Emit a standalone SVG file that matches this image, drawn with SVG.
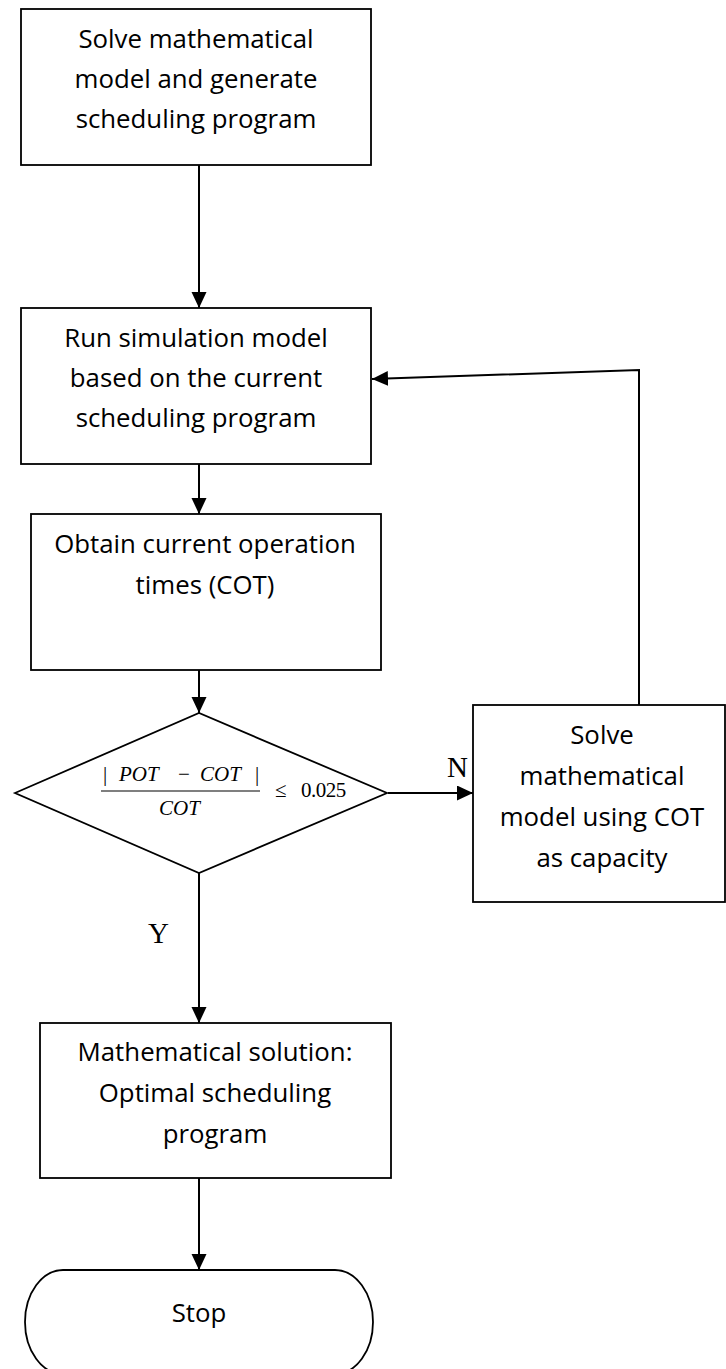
<svg xmlns="http://www.w3.org/2000/svg" width="726" height="1369" viewBox="0 0 726 1369">
<style>
.box{fill:#fff;stroke:#000;stroke-width:1.8}
.t{font-family:"Open Sans","Noto Sans",sans-serif;font-size:25.8px;fill:#000;text-anchor:middle}
.lbl{font-family:"Liberation Serif","Times New Roman",serif;font-size:29px;fill:#000}
.m{font-family:"Liberation Serif","Times New Roman",serif;font-size:21px;fill:#000}
.c{fill:none;stroke:#000;stroke-width:2}
</style>
<defs>
<marker id="ah" markerUnits="userSpaceOnUse" markerWidth="18" markerHeight="16" refX="16" refY="7.5" orient="auto">
<path d="M0,0 L16,7.5 L0,15 Z" fill="#000"/>
</marker>
</defs>
<rect width="726" height="1369" fill="#fff"/>
<g id="connectors">
<line class="c" x1="199" y1="165" x2="199" y2="308" marker-end="url(#ah)"/>
<line class="c" x1="199" y1="464" x2="199" y2="514" marker-end="url(#ah)"/>
<line class="c" x1="199" y1="670" x2="199" y2="713" marker-end="url(#ah)"/>
<line class="c" x1="388" y1="793" x2="473" y2="793" marker-end="url(#ah)"/>
<polyline class="c" points="639,705 639,370 372,379" marker-end="url(#ah)"/>
<line class="c" x1="199" y1="873" x2="199" y2="1023" marker-end="url(#ah)"/>
<line class="c" x1="199" y1="1178" x2="199" y2="1270" marker-end="url(#ah)"/>
<text class="lbl" x="447" y="777">N</text>
<text class="lbl" x="148" y="943">Y</text>
</g>
<g id="n1">
<rect class="box" x="21" y="9" width="350" height="156"/>
<text class="t" x="196" y="48">Solve mathematical</text>
<text class="t" x="196" y="88">model and generate</text>
<text class="t" x="196" y="128">scheduling program</text>
</g>
<g id="n2">
<rect class="box" x="21" y="308" width="350" height="156"/>
<text class="t" x="196" y="347">Run simulation model</text>
<text class="t" x="196" y="387">based on the current</text>
<text class="t" x="196" y="427">scheduling program</text>
</g>
<g id="n3">
<rect class="box" x="31" y="514" width="350" height="156"/>
<text class="t" x="205" y="553">Obtain current operation</text>
<text class="t" x="205" y="594">times (COT)</text>
</g>
<g id="n4">
<polygon class="box" points="15,793 199,713 387,793 199,873"/>
<text class="m" x="103" y="781" font-size="20">|</text>
<text class="m" x="119" y="781" font-style="italic">POT</text>
<text class="m" x="178" y="781">−</text>
<text class="m" x="200" y="781" font-style="italic">COT</text>
<text class="m" x="255" y="781" font-size="20">|</text>
<line x1="101" y1="791" x2="260" y2="791" stroke="#000" stroke-width="1.2"/>
<text class="m" x="159" y="815" font-style="italic">COT</text>
<text class="m" x="275" y="797">≤</text>
<text class="m" x="301" y="797" letter-spacing="-0.5">0.025</text>
</g>
<g id="n5">
<rect class="box" x="473" y="705" width="252" height="197"/>
<text class="t" x="602" y="744">Solve</text>
<text class="t" x="602" y="785">mathematical</text>
<text class="t" x="602" y="826">model using COT</text>
<text class="t" x="602" y="867">as capacity</text>
</g>
<g id="n6">
<rect class="box" x="40" y="1023" width="351" height="155"/>
<text class="t" x="215" y="1061">Mathematical solution:</text>
<text class="t" x="215" y="1102">Optimal scheduling</text>
<text class="t" x="215" y="1143">program</text>
</g>
<g id="n7">
<path class="box" d="M63,1270 H335 A38,52 0 0 1 335,1374 H63 A38,52 0 0 1 63,1270 Z"/>
<text class="t" x="199" y="1322">Stop</text>
</g>
</svg>
